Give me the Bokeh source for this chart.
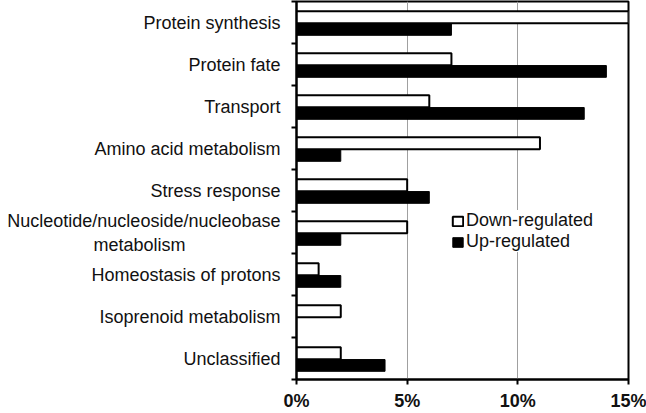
from bokeh.plotting import figure
from bokeh.models import (Range1d, LinearAxis, FixedTicker,
                          PrintfTickFormatter, ColumnDataSource, Legend, LegendItem)
from bokeh.transform import dodge
from bokeh.embed import file_html
from bokeh.resources import INLINE

categories = ["Protein synthesis", "Protein fate", "Transport", "Amino acid metabolism",
              "Stress response", "Nucleotide/nucleoside/nucleobase\nmetabolism",
              "Homeostasis of protons", "Isoprenoid metabolism", "Unclassified"]
down_regulated = [15, 7, 6, 11, 5, 5, 1, 2, 2]
up_regulated = [7, 14, 13, 2, 6, 2, 2, 0, 4]
x_ticks = [0, 5, 10, 15]
series_names = ["Down-regulated", "Up-regulated"]

FONT = "Liberation Sans"
n = len(categories)
pos = list(range(n - 1, -1, -1))  # first category at top


def centered(label):
    # pad the shorter second line so it sits centred under the first line
    lines = label.split("\n")
    if len(lines) < 2:
        return label
    return lines[0] + "\n" + lines[1] + " " * 19


src = ColumnDataSource(dict(cat=categories, pos=pos, down=down_regulated, up=up_regulated))

p = figure(width=646, height=413, output_backend="svg", toolbar_location=None,
           y_range=Range1d(-0.5, n - 0.5), x_range=Range1d(0, 15),
           y_axis_location=None, x_axis_location=None,
           min_border_left=296, min_border_right=18, min_border_top=1, min_border_bottom=29)

yaxis = LinearAxis(ticker=FixedTicker(ticks=pos, minor_ticks=[i - 0.5 for i in range(n + 1)]),
                   major_label_overrides={pp: centered(c) for pp, c in zip(pos, categories)},
                   major_tick_line_color=None, minor_tick_out=5, minor_tick_in=0,
                   minor_tick_line_width=2, minor_tick_line_color="black",
                   axis_line_width=2, axis_line_color="black",
                   major_label_text_font=FONT, major_label_text_font_size="18px",
                   major_label_text_color="#111111", major_label_standoff=10)
p.add_layout(yaxis, "left")

xaxis = LinearAxis(ticker=FixedTicker(ticks=x_ticks), formatter=PrintfTickFormatter(format="%d%%"),
                   major_label_text_font=FONT, major_label_text_font_size="18px",
                   major_label_text_font_style="bold", major_label_text_color="#111111",
                   major_tick_out=5, major_tick_in=0, major_tick_line_width=2,
                   axis_line_width=2, minor_tick_line_color=None, major_label_standoff=6)
p.add_layout(xaxis, "below")

p.xgrid.ticker = FixedTicker(ticks=x_ticks)
p.xgrid.grid_line_color = "#a0a0a0"
p.ygrid.visible = False
p.outline_line_color = "black"
p.outline_line_width = 2

r_down = p.hbar(y=dodge("pos", 0.125), right="down", left=0, height=0.28,
                source=src, fill_color="white", line_color="black", line_width=2)
r_up = p.hbar(y=dodge("pos", -0.165), right="up", left=0, height=0.28,
              source=src, fill_color="black", line_color="black", line_width=1)

legend = Legend(items=[LegendItem(label=series_names[0], renderers=[r_down]),
                       LegendItem(label=series_names[1], renderers=[r_up])],
                location=(155, 127), label_text_font=FONT, label_text_font_size="18px",
                label_text_color="#111111", glyph_width=13, glyph_height=12,
                label_standoff=2, spacing=0, padding=2, margin=0,
                border_line_color=None, background_fill_color="white", background_fill_alpha=1)
p.add_layout(legend, "center")

open("out.html", "w").write(file_html(p, INLINE))
